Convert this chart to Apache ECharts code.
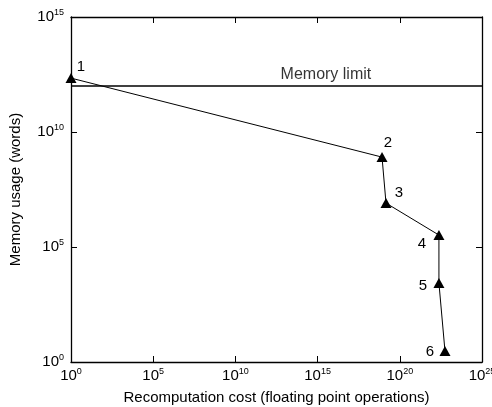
<!DOCTYPE html>
<html>
<head>
<meta charset="utf-8">
<script src="https://cdn.jsdelivr.net/npm/echarts@6/dist/echarts.min.js"></script>
<style>
html,body{margin:0;padding:0;background:#fff;}
#c{width:492px;height:407px;}
</style>
</head>
<body>
<div id="c"></div>
<script>
// Data (log-log plot)
const pointLabels = ['1', '2', '3', '4', '5', '6'];
const recompCost = [1, 8.3e18, 1.45e19, 2.4e22, 2.4e22, 5.6e22];
const memUsage = [2.2e12, 8.1e8, 8.1e6, 3.3e5, 2.7e3, 3.0];
const memoryLimit = 1e12;
const memoryLimitLabelX = 3.2e15;
const xTickExponents = [0, 5, 10, 15, 20, 25];
const yTickExponents = [0, 5, 10, 15];

const labelOffsets = [[10, -11], [6, -14], [13, -10], [-17, 9], [-16, 3], [-15, 1]];

const FONT = 'Liberation Sans, Arial, Helvetica, sans-serif';

function powLabel(v) {
  const e = Math.round(Math.log10(v));
  return '{b|10}{s|' + e + '}';
}
const rich = {
  b: { fontSize: 15, fontFamily: FONT, color: '#000', lineHeight: 17 },
  s: { fontSize: 9, fontFamily: FONT, color: '#000', verticalAlign: 'top', lineHeight: 17, padding: [0, 0, 7, 0] }
};

const chart = echarts.init(document.getElementById('c'), null, { renderer: 'canvas' });

const pts = recompCost.map((x, i) => ({
  value: [x, memUsage[i]],
  label: {
    show: true,
    formatter: pointLabels[i],
    position: 'inside',
    offset: labelOffsets[i],
    fontSize: 15,
    fontFamily: FONT,
    color: '#000'
  }
}));

const axisLine = { show: true, lineStyle: { color: '#000', width: 1.3 } };

chart.setOption({
  animation: false,
  backgroundColor: '#fff',
  grid: { left: 71, right: 10, top: 17, bottom: 45, containLabel: false, outerBoundsMode: 'none' },
  xAxis: [
    {
      type: 'log', logBase: 10, min: 1, max: 1e25, interval: 5,
      position: 'bottom',
      name: 'Recomputation cost (floating point operations)',
      nameLocation: 'middle', nameGap: 28,
      nameTextStyle: { fontSize: 15, fontFamily: FONT, color: '#000' },
      axisLine: axisLine,
      axisTick: { show: true, inside: true, length: 6, lineStyle: { color: '#000', width: 1 } },
      minorTick: { show: false },
      splitLine: { show: false },
      axisLabel: { formatter: powLabel, rich: rich, margin: 5, showMinLabel: true, showMaxLabel: true }
    },
    {
      type: 'log', logBase: 10, min: 1, max: 1e25, interval: 5,
      position: 'top',
      axisLine: axisLine,
      axisTick: { show: true, inside: true, length: 6, lineStyle: { color: '#000', width: 1 } },
      splitLine: { show: false },
      axisLabel: { show: false }
    }
  ],
  yAxis: [
    {
      type: 'log', logBase: 10, min: 1, max: 1e15, interval: 5,
      position: 'left',
      name: 'Memory usage (words)',
      nameLocation: 'middle', nameGap: 48, nameRotate: 90,
      nameTextStyle: { fontSize: 15, fontFamily: FONT, color: '#000' },
      axisLine: axisLine,
      axisTick: { show: true, inside: true, length: 6, lineStyle: { color: '#000', width: 1 } },
      splitLine: { show: false },
      axisLabel: { formatter: powLabel, rich: rich, margin: 7, showMinLabel: true, showMaxLabel: true }
    },
    {
      type: 'log', logBase: 10, min: 1, max: 1e15, interval: 5,
      position: 'right',
      axisLine: axisLine,
      axisTick: { show: true, inside: true, length: 6, lineStyle: { color: '#000', width: 1 } },
      splitLine: { show: false },
      axisLabel: { show: false }
    }
  ],
  series: [
    {
      type: 'line',
      data: [[1, memoryLimit], [1e25, memoryLimit]],
      symbol: 'none',
      lineStyle: { color: '#000', width: 1.5 },
      silent: true,
      z: 2
    },
    {
      type: 'scatter',
      data: [{ value: [memoryLimitLabelX, memoryLimit] }],
      symbolSize: 1,
      itemStyle: { color: 'rgba(0,0,0,0)' },
      label: {
        show: true, formatter: 'Memory limit', position: 'top', distance: 3,
        fontSize: 16, fontFamily: FONT, color: '#000'
      },
      silent: true
    },
    {
      type: 'line',
      data: pts,
      symbol: 'triangle',
      symbolSize: [11, 10],
      showAllSymbol: true,
      clip: false,
      itemStyle: { color: '#000' },
      lineStyle: { color: '#000', width: 1 },
      z: 3
    }
  ]
});
</script>
</body>
</html>
